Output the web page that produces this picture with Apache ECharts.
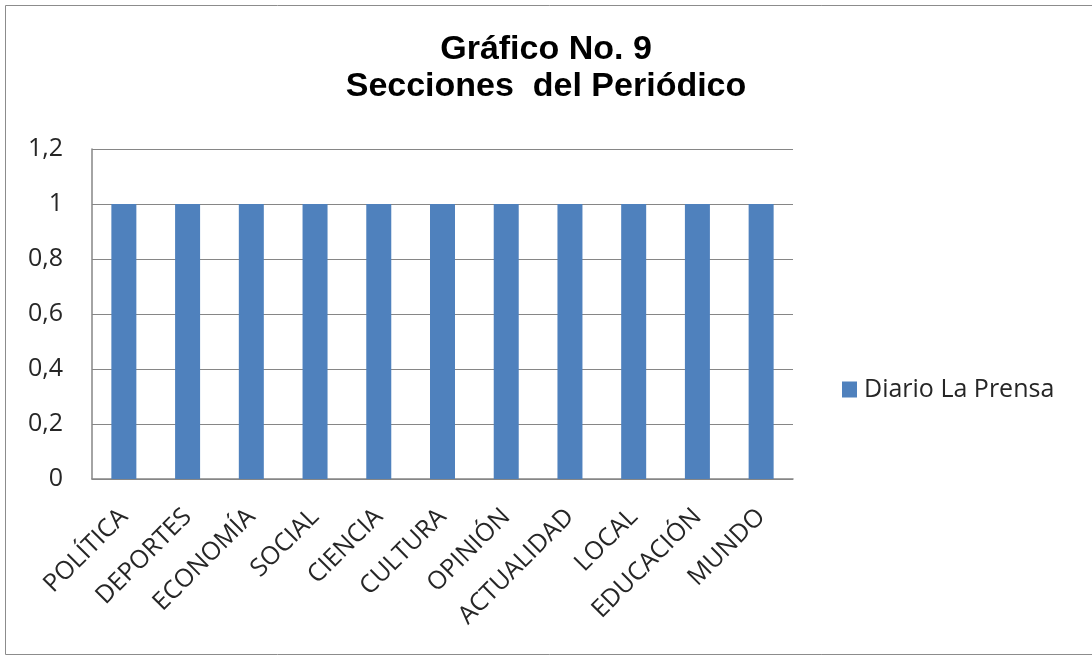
<!DOCTYPE html>
<html>
<head>
<meta charset="utf-8">
<script src="https://cdn.jsdelivr.net/npm/echarts@6/dist/echarts.min.js"></script>
<style>
  html, body { margin: 0; padding: 0; background: #fff; }
  #chart { width: 1092px; height: 658px; }
</style>
</head>
<body>
<div id="chart"></div>
<script>
// Sections of the newspaper, one count each
const categories = ['POLÍTICA', 'DEPORTES', 'ECONOMÍA', 'SOCIAL', 'CIENCIA', 'CULTURA', 'OPINIÓN', 'ACTUALIDAD', 'LOCAL', 'EDUCACIÓN', 'MUNDO'];
const seriesName = 'Diario La Prensa';
const values = [1, 1, 1, 1, 1, 1, 1, 1, 1, 1, 1];
const titleLines = ['Gráfico No. 9', 'Secciones  del Periódico'];

const chart = echarts.init(document.getElementById('chart'), null, { renderer: 'canvas' });
const labelFont = '"Open Sans", Lato, sans-serif';

chart.setOption({
  animation: false,
  backgroundColor: '#ffffff',
  graphic: [{
    type: 'rect',
    shape: { x: 5.5, y: 5.5, width: 1100, height: 649 },
    style: { fill: 'none', stroke: '#8c8c8c', lineWidth: 1 },
    silent: true
  }],
  title: {
    text: titleLines.join('\n'),
    left: 546,
    textAlign: 'center',
    top: 31,
    padding: 0,
    textStyle: {
      fontFamily: '"Liberation Sans", Arial, sans-serif',
      fontWeight: 'bold',
      fontSize: 34,
      lineHeight: 37,
      color: '#000'
    }
  },
  legend: {
    data: [seriesName],
    left: 842,
    top: 377,
    padding: 0,
    itemWidth: 15,
    itemHeight: 16,
    itemGap: 6,
    icon: 'rect',
    textStyle: { fontFamily: labelFont, fontSize: 25, color: '#262626', padding: [0, 0, 0, 2] }
  },
  grid: { left: 92, right: 299, top: 149, bottom: 179, containLabel: false },
  xAxis: {
    type: 'category',
    data: categories,
    axisLine: { lineStyle: { color: '#868686', width: 1.5 } },
    axisTick: { show: false },
    axisLabel: {
      rotate: 45,
      fontFamily: labelFont,
      fontSize: 25,
      color: '#262626',
      margin: 34,
      interval: 0
    }
  },
  yAxis: {
    type: 'value',
    min: 0,
    max: 1.2,
    interval: 0.2,
    axisLine: { show: true, lineStyle: { color: '#868686', width: 1.5 } },
    axisTick: { show: false },
    splitLine: { lineStyle: { color: '#868686', width: 1.2 } },
    axisLabel: {
      fontFamily: labelFont,
      fontSize: 25,
      color: '#262626',
      margin: 29,
      formatter: v => String(Math.round(v * 10) / 10).replace('.', ',')
    }
  },
  series: [{
    name: seriesName,
    type: 'bar',
    data: values,
    barWidth: 25,
    itemStyle: { color: '#4f81bd' }
  }]
});
</script>
</body>
</html>
